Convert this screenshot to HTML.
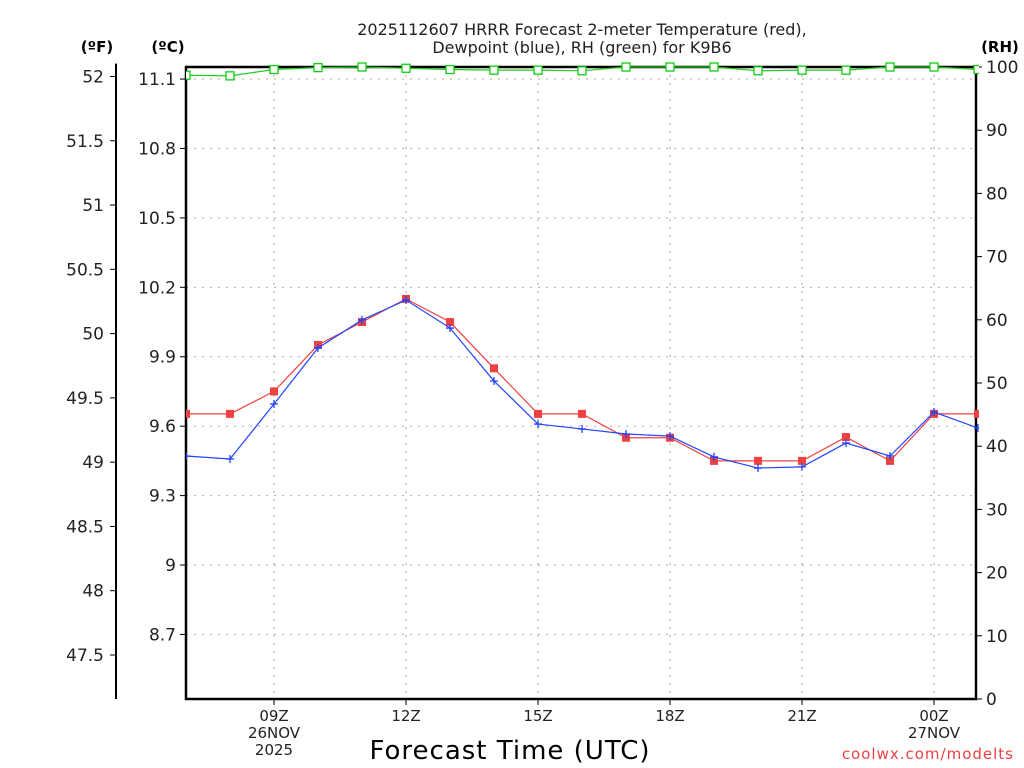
<!DOCTYPE html>
<html><head><meta charset="utf-8"><style>
body{margin:0;background:#fff;}
svg{display:block;font-family:"DejaVu Sans","Liberation Sans",sans-serif;}
</style></head><body>
<svg id="chart" width="1024" height="768" viewBox="0 0 1024 768"></svg>
<script>
const hours = ["07","08","09","10","11","12","13","14","15","16","17","18","19","20","21","22","23","00","01"];
const tempC = [9.653,9.653,9.75,9.951,10.05,10.15,10.05,9.85,9.653,9.653,9.55,9.55,9.45,9.45,9.45,9.553,9.45,9.653,9.653];
const dewC = [9.471,9.458,9.696,9.938,10.059,10.145,10.024,9.795,9.609,9.588,9.566,9.557,9.467,9.419,9.424,9.527,9.471,9.661,9.592];
const rh = [98.7,98.6,99.6,99.9,100,99.8,99.6,99.5,99.5,99.4,100,100,100,99.4,99.5,99.5,100,100,99.6];
const cTicks = ["11.1","10.8","10.5","10.2","9.9","9.6","9.3","9","8.7"];
const fTicks = ["52","51.5","51","50.5","50","49.5","49","48.5","48","47.5"];
const rhTicks = ["0","10","20","30","40","50","60","70","80","90","100"];
const xTicks = [{i:2,l:["09Z","26NOV","2025"]},{i:5,l:["12Z"]},{i:8,l:["15Z"]},{i:11,l:["18Z"]},{i:14,l:["21Z"]},{i:17,l:["00Z","27NOV"]}];

const L=186,R=976,T=67,B=699;
const xs=i=>L+i*44;
const yC=v=>565-(v-9.0)*231.4;
const yF=v=>yC((v-32)*5/9);
const yRH=v=>B-(v)*(B-T)/100;
const svg=document.getElementById('chart');
const NS='http://www.w3.org/2000/svg';
function mk(tag,attrs,parent){const e=document.createElementNS(NS,tag);for(const k in attrs)e.setAttribute(k,attrs[k]);(parent||svg).appendChild(e);return e;}
function txt(x,y,s,size,anchor,fill,weight){const t=mk('text',{x:x,y:y,'font-size':size,'text-anchor':anchor||'middle',fill:fill||'#222'});if(weight)t.setAttribute('font-weight',weight);t.textContent=s;return t;}

let t1=txt(582,35,"2025112607 HRRR Forecast 2-meter Temperature (red),",16);


let t2=txt(582,53,"Dewpoint (blue), RH (green) for K9B6",16);


let uF=txt(97,52,"(ºF)",15,'middle','#000','bold');


let uC=txt(168,52,"(ºC)",15,'middle','#000','bold');


let uR=txt(1000,52,"(RH)",15,'middle','#000','bold');



cTicks.forEach(s=>{const y=yC(parseFloat(s));
 const g=mk('line',{x1:L,x2:R,y1:y,y2:y,stroke:'#aaa','stroke-dasharray':'2,6'});
 
 
 mk('line',{x1:L-6,x2:L,y1:y,y2:y,stroke:'#000'});
 const t=txt(L-10,y+6,s,17,'end');
 
 
});
xTicks.forEach(o=>{const x=xs(o.i);
 const g=mk('line',{x1:x,x2:x,y1:T,y2:B,stroke:'#aaa','stroke-dasharray':'2,6'});
 
 
 mk('line',{x1:x,x2:x,y1:B,y2:B+6,stroke:'#000'});
 o.l.forEach((s,k)=>{const t=txt(x,721+k*17,s,15);
  
  });
});
mk('line',{x1:116,x2:116,y1:yF(52.1),y2:B,stroke:'#000','stroke-width':2});
fTicks.forEach(s=>{const y=yF(parseFloat(s));
 mk('line',{x1:110,x2:116,y1:y,y2:y,stroke:'#000'});
 const t=txt(104,y+6,s,17,'end');
 
 
});
rhTicks.forEach(s=>{const y=yRH(parseFloat(s));
 mk('line',{x1:R,x2:R+6,y1:y,y2:y,stroke:'#000'});
 const t=txt(R+10,y+6,s,17,'start');
 
 
});
const fr=mk('rect',{x:L,y:T,width:R-L,height:B-T,fill:'none',stroke:'#000','stroke-width':2.5});



const clip=mk('clipPath',{id:'cp'});mk('rect',{x:L,y:T-8,width:R-L+3,height:B-T+16},clip);
const g=mk('g',{'clip-path':'url(#cp)'});
function series(vals,yf,color,name){
 const p=mk('polyline',{points:vals.map((v,i)=>xs(i)+','+yf(v)).join(' '),fill:'none',stroke:color,'stroke-width':1.2},g);
 
 
 return p;
}
series(rh,yRH,'#22cc22','rh');
rh.forEach((v,i)=>{const r=mk('rect',{x:xs(i)-4,y:yRH(v)-4,width:8,height:8,fill:'#fff',stroke:'#11cc11','stroke-width':1.3},g);
 
 });
series(tempC,yC,'#f04040','temperature');
tempC.forEach((v,i)=>{const r=mk('rect',{x:xs(i)-4,y:yC(v)-4,width:8,height:8,fill:'#f04040'},g);
 
 });
series(dewC,yC,'#2244ff','dewpoint');
dewC.forEach((v,i)=>{const x=xs(i),y=yC(v);
 const p=mk('path',{d:`M${x-4},${y}H${x+4}M${x},${y-4}V${y+4}`,stroke:'#2244ff','stroke-width':1.3},g);
 
 });

let xt=txt(510,759,"Forecast Time (UTC)",26,'middle','#000');


xt.setAttribute('letter-spacing','1');
let cr=txt(1014,759,"coolwx.com/modelts",15,'end','#f04040');


cr.setAttribute('letter-spacing','1');
</script>
</body></html>
